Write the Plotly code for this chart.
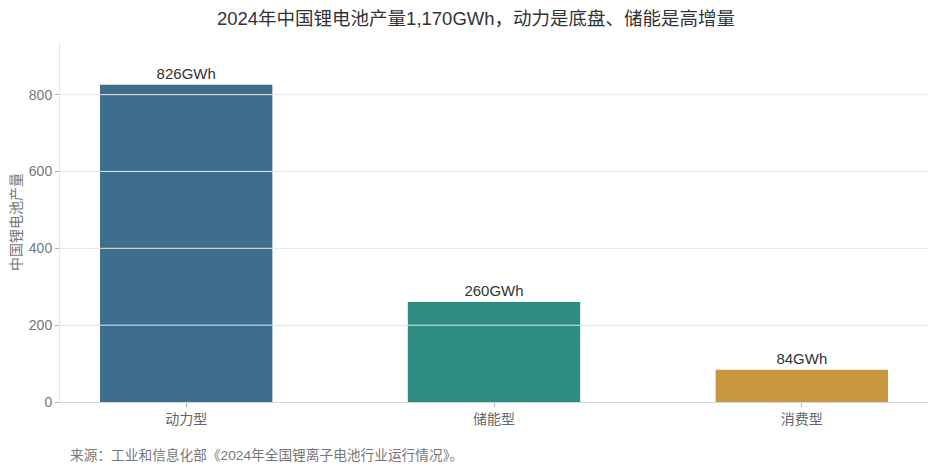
# -*- coding: utf-8 -*-
"""
2024年中国锂电池产量 - 按类型
"""

import plotly.graph_objects as go

# data
categories = ['动力型', '储能型', '消费型']
output_gwh = [826, 260, 84]
bar_labels = ['826GWh', '260GWh', '84GWh']
bar_colors = ['#3e6e8e', '#2e8b80', '#c8963c']
y_ticks = [0, 200, 400, 600, 800]

titleText = '2024年中国锂电池产量1,170GWh，动力是底盘、储能是高增量'
sourceText = '来源：工业和信息化部《2024年全国锂离子电池行业运行情况》。'

fontFamily = 'Liberation Sans, Noto Sans CJK SC, sans-serif'
gridColor = '#e6e9ed'

fig = go.Figure()
fig.add_trace(go.Bar(x=categories,
                     y=output_gwh,
                     text=bar_labels,
                     textposition='outside',
                     textfont=dict(size=15, color='#333333'),
                     cliponaxis=False,
                     width=0.56,
                     marker=dict(color=bar_colors, line=dict(width=0))))

# gridlines drawn over the bars, like the original
for t in y_ticks[1:]:
    fig.add_hline(y=t, line=dict(color=gridColor, width=1), layer='above')

# page body adds an 8px offset, so margins are set against that
fig.update_layout(
    width=936, height=472,
    autosize=False,
    margin=dict(t=34, l=52, r=16, b=78, autoexpand=False),
    paper_bgcolor='white', plot_bgcolor='white',
    font=dict(family=fontFamily, color='#777777', size=14),
    title=dict(text=titleText, x=0.5, xanchor='center', y=0.977, yanchor='middle',
               pad=dict(t=0, b=0), font=dict(size=18.5, color='#333333')),
    showlegend=False,
    xaxis=dict(range=[-0.41, 2.41], showline=True, linecolor='#d5d9de',
               automargin=False,
               ticks='outside', ticklen=4, tickcolor='#b0b4b8',
               tickfont=dict(size=14, color='#666666')),
    yaxis=dict(range=[0, 937], tickvals=y_ticks, showline=True, linecolor='#e3e6ea',
               automargin=False,
               ticks='outside', ticklen=4, tickcolor='#b0b4b8',
               showgrid=True, gridcolor=gridColor, gridwidth=1,
               zeroline=False,
               tickfont=dict(size=14, color='#777777'),
               title=dict(text='中国锂电池产量', standoff=10,
                          font=dict(size=14, color='#777777'))),
)

# source note
fig.add_annotation(text=sourceText, xref='paper', yref='paper',
                   x=0.0, y=-0.12, xanchor='left', yanchor='top',
                   xshift=8, showarrow=False,
                   font=dict(size=13.7, color='#777777'))

fig.write_html('out.html')
